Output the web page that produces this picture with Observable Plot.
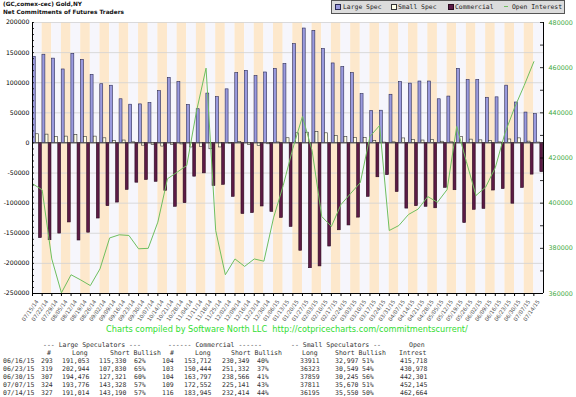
<!DOCTYPE html>
<html><head><meta charset="utf-8">
<script src="https://cdn.jsdelivr.net/npm/d3@7"></script>
<script src="https://cdn.jsdelivr.net/npm/@observablehq/plot@0.6"></script>
<style>
body{margin:0;background:#fff;}
#wrap{position:relative;width:576px;height:397px;overflow:hidden;font-family:"DejaVu Sans",sans-serif;background:#fff;}
#wrap svg{position:absolute;left:0;top:0;}
.t{position:absolute;white-space:pre;line-height:8px;}
.mono{font-family:"DejaVu Sans Mono",monospace;font-size:6.5px;color:#333;}
</style></head><body><div id="wrap"></div>
<script>
const dates = ["07/15/14","07/22/14","07/29/14","08/05/14","08/12/14","08/19/14","08/26/14","09/02/14","09/09/14","09/16/14","09/23/14","09/30/14","10/07/14","10/14/14","10/21/14","10/28/14","11/04/14","11/11/14","11/18/14","11/25/14","12/02/14","12/09/14","12/16/14","12/23/14","12/30/14","01/06/15","01/13/15","01/20/15","01/27/15","02/03/15","02/10/15","02/17/15","02/24/15","03/03/15","03/10/15","03/17/15","03/24/15","03/31/15","04/07/15","04/14/15","04/21/15","04/28/15","05/05/15","05/12/15","05/19/15","05/26/15","06/02/15","06/09/15","06/16/15","06/23/15","06/30/15","07/07/15","07/14/15"];
const largeSpec = [143000,146500,140000,122000,148000,138000,113000,97500,95000,72500,63500,64000,66000,86000,108000,101000,63000,56000,82000,76000,89000,116000,119500,111000,117000,123000,131000,164000,190000,186000,156000,132000,126000,116000,81000,53000,53500,80000,101000,98500,102000,102000,72500,77000,123000,104500,104500,75000,75723,95114,67155,50448,47824];
const smallSpec = [14400,13800,9600,10500,13000,9600,10500,7700,3000,4000,1000,-4500,-3300,-6000,-3500,-2500,-7500,-6500,-10500,-7500,-1000,1700,-3300,-5000,-2200,800,7800,16000,17000,18000,16000,11600,9800,8000,8000,3000,600,1000,7500,5000,4000,5000,2000,1000,9600,5500,4300,3000,914,5774,7614,2141,645];
const commercial = [-158000,-161500,-150500,-132000,-162000,-149000,-125500,-105000,-99000,-78000,-66000,-61500,-64500,-79500,-106000,-100000,-56000,-50500,-71500,-69500,-89500,-118000,-116500,-105500,-114500,-124500,-139500,-179000,-208000,-205000,-172000,-145000,-137000,-124000,-89500,-57000,-53500,-81500,-109000,-105000,-106000,-108500,-74500,-78500,-133000,-111000,-109500,-79000,-76637,-100888,-74769,-52589,-48469];
const openInterest = [408600,405900,375300,360300,368300,366000,363500,370900,384600,386000,385700,379800,380000,391600,410800,413700,416700,440500,459800,387900,368300,375300,372000,375300,374300,393500,407800,424200,438400,423300,394100,389700,399400,404300,409100,429500,434400,387900,390100,395000,397400,402900,400400,406000,434000,418400,403400,407100,415718,430978,442301,452145,462664];
const leftTicks = [-250000,-200000,-150000,-100000,-50000,0,50000,100000,150000,200000];
const rightTicks = [360000,380000,400000,420000,440000,460000,480000];

// table
const tblDates = ["06/16/15","06/23/15","06/30/15","07/07/15","07/14/15"];
const lsTraders = [293,319,307,324,327];
const lsLong = [191053,202944,194476,193776,191014];
const lsShort = [115330,107830,127321,143328,143190];
const lsBull = [62,65,60,57,57];
const comTraders = [104,103,104,109,116];
const comLong = [153712,150444,163797,172552,183945];
const comShort = [230349,251332,238566,225141,232414];
const comBull = [40,37,41,43,44];
const ssLong = [33911,36323,37859,37811,36195];
const ssShort = [32997,30549,30245,35670,35550];
const ssBull = [51,54,56,51,50];
const oiTbl = [415718,430978,442301,452145,462664];

const W=576,H=397,mL=32,mR=33,mT=22,mB=104;
const fw = W-mL-mR;
const bw = fw/dates.length;
const toLeft = v => -250000 + (v-360000)*3.75;
const fromLeft = v => 360000 + (v+250000)/3.75;
const rows = dates.map((d,i)=>({date:d,i,ls:largeSpec[i],ss:smallSpec[i],com:commercial[i],oi:toLeft(openInterest[i])}));
const minorLeft = d3.range(-250000,200001,10000);
const minorRight = d3.range(360000,480001,10000).map(toLeft);

const chart = Plot.plot({
  width: W, height: H, marginLeft: mL, marginRight: mR, marginTop: mT, marginBottom: mB,
  style: {fontFamily: "DejaVu Sans", fontSize: "6.2px", background: "transparent", overflow: "visible"},
  x: {type: "band", domain: dates, padding: 0},
  y: {domain: [-250000, 200000]},
  marks: [
    Plot.cell(rows, {x: "date", fill: d => d.i % 2 ? "#fde8cc" : "#f6f6fc", inset: 0}),
    Plot.ruleY(leftTicks, {stroke: "#d2d2d2", strokeWidth: 0.8}),
    Plot.barY(rows, {x: "date", y: "ls", fill: "#9a9ade", stroke: "#2a2a55", strokeWidth: 0.6, insetLeft: 0.3, insetRight: 6.4}),
    Plot.barY(rows, {x: "date", y: "ss", fill: "#ffffe8", stroke: "#333", strokeWidth: 0.6, insetLeft: 3.4, insetRight: 3.3}),
    Plot.barY(rows, {x: "date", y: "com", fill: "#5c1a45", stroke: "#2a0a20", strokeWidth: 0.6, insetLeft: 6.5, insetRight: 0.3}),
    Plot.ruleY([0], {stroke: "#444", strokeWidth: 0.8}),
    Plot.line(rows, {x: "date", y: "oi", dx: -bw/2, stroke: "#6fbf5f", strokeWidth: 1}),
    Plot.ruleY([-250000], {stroke: "#000"}),
    Plot.ruleX([dates[0]], {x: d => d, dx: -bw/2, stroke: "#000"}),
    Plot.ruleX([dates[dates.length-1]], {x: d => d, dx: bw/2, stroke: "#000"}),
    Plot.tickY(minorLeft, {y: d => d, insetRight: fw - 2, stroke: "#000", strokeWidth: 0.8}),
    Plot.tickY(minorRight, {y: d => d, insetLeft: fw - 3, stroke: "#000", strokeWidth: 0.8}),
    Plot.axisY({anchor: "left", ticks: leftTicks, tickFormat: d => String(d), tickSize: 0, tickPadding: 3, fontSize: 6.2, fill: "#000", label: null}),
    Plot.axisY({anchor: "right", ticks: rightTicks.map(toLeft), tickFormat: d => String(Math.round(fromLeft(d))), tickSize: 0, tickPadding: 5, fontSize: 6.4, fill: "#44aa44", label: null}),
    Plot.axisX({ticks: dates, tickSize: 3, tickFormat: () => "", dx: -bw/2, stroke: "#000", label: null}),
    Plot.axisX({ticks: dates, tickSize: 0, tickPadding: 7, tickRotate: -55, fontSize: 5.5, fill: "#555", label: null})
  ]
});
const wrap = document.getElementById("wrap");
wrap.appendChild(chart);

function add(html, x, y, cls, style="") {
  const s = document.createElement("div");
  s.className = "t " + (cls||"");
  s.style.left = x + "px"; s.style.top = y + "px";
  s.setAttribute("style", s.getAttribute("style") + ";" + style);
  s.innerHTML = html;
  wrap.appendChild(s);
  return s;
}
// title
add("(GC,comex-cec) Gold,NY", 3, 0, "", "font-size:5.8px;font-weight:bold;color:#111;");
add("Net Commitments of Futures Traders", 3, 7.5, "", "font-size:5.8px;font-weight:bold;color:#111;");
// legend
add("", 331, 0, "", "width:232px;height:12px;background:#dcdcdc;border:1px solid #555;");
const mk = (x, fill, stroke) => add("", x, 3.5, "", `width:4px;height:4px;background:${fill};border:0.7px solid ${stroke};`);
mk(335, "#9a9ade", "#2a2a55"); add("Large Spec", 343, 2.5, "mono", "font-size:6.4px;color:#222;");
mk(391, "#ffffe8", "#333"); add("Small Spec", 398, 2.5, "mono", "font-size:6.4px;color:#222;");
mk(447.5, "#5c1a45", "#2a0a20"); add("Commercial", 455, 2.5, "mono", "font-size:6.4px;color:#222;");
add("", 504, 6, "", "width:4px;height:1px;background:#6fbf5f;");
add("Open Interest", 512, 2.5, "mono", "font-size:6.4px;color:#222;");
// footer
add("Charts compiled by Software North LLC  http://cotpricecharts.com/commitmentscurrent/", 106, 324, "", "font-size:8.2px;color:#33dd33;line-height:10px;");
// table
const f = d3.format(",");
const y0 = 341;
add("--- Large Speculators ---", 43, y0, "mono");
add("------ Commercial ------", 168, y0, "mono");
add("-- Small Speculators --", 291, y0, "mono");
add("Open", 409, y0, "mono");
const y1 = y0 + 8;
add("#", 47, y1, "mono"); add("Long", 72, y1, "mono"); add("Short Bullish", 110, y1, "mono");
add("#", 170, y1, "mono"); add("Long", 195, y1, "mono"); add("Short Bullish", 231, y1, "mono");
add("Long", 302, y1, "mono"); add("Short Bullish", 335, y1, "mono"); add("Intrest", 399, y1, "mono");
tblDates.forEach((d, i) => {
  const y = y1 + 8 * (i + 1);
  add(d, 3, y, "mono");
  add(String(lsTraders[i]), 41, y, "mono");
  add(f(lsLong[i]), 62, y, "mono");
  add(f(lsShort[i]), 99, y, "mono");
  add(lsBull[i] + "%", 134, y, "mono");
  add(String(comTraders[i]), 162, y, "mono");
  add(f(comLong[i]), 184, y, "mono");
  add(f(comShort[i]), 222, y, "mono");
  add(comBull[i] + "%", 257, y, "mono");
  add(String(ssLong[i]), 300, y, "mono");
  add(f(ssShort[i]), 335, y, "mono");
  add(ssBull[i] + "%", 362, y, "mono");
  add(f(oiTbl[i]), 400, y, "mono");
});
</script></body></html>
